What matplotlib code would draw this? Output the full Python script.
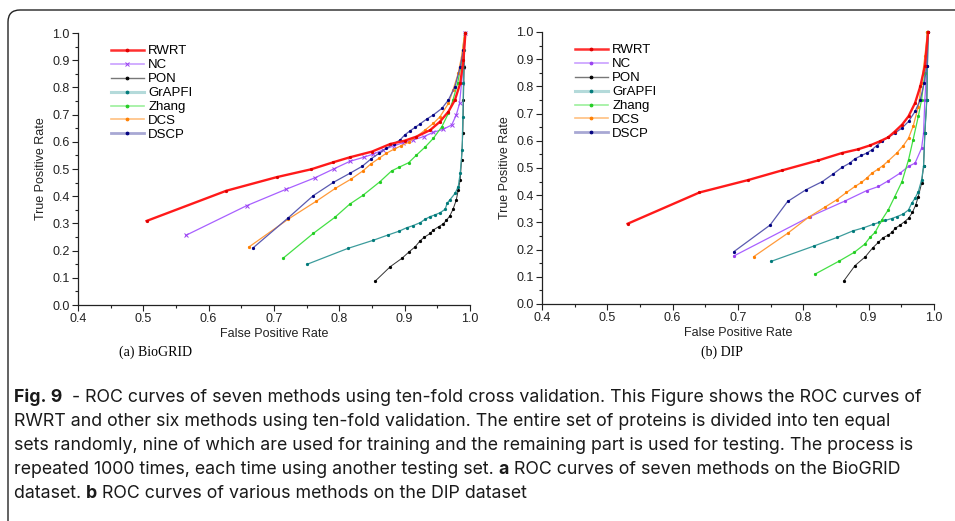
import matplotlib
matplotlib.use("Agg")
import matplotlib.pyplot as plt
from matplotlib import font_manager
from matplotlib.font_manager import FontProperties
from matplotlib.textpath import TextPath
from matplotlib.lines import Line2D
from matplotlib.patches import FancyBboxPatch
from matplotlib.transforms import IdentityTransform

# ---- data: (a) BioGRID ----
BG_RWRT_FPR = [0.505, 0.627, 0.704, 0.757, 0.791, 0.816, 0.850, 0.878, 0.900, 0.918, 0.939, 0.954, 0.967, 0.977, 0.985, 0.990, 0.993]
BG_RWRT_TPR = [0.309, 0.420, 0.470, 0.499, 0.525, 0.543, 0.564, 0.592, 0.604, 0.619, 0.643, 0.674, 0.711, 0.754, 0.815, 0.900, 1.000]
BG_NC_FPR = [0.565, 0.658, 0.719, 0.763, 0.792, 0.816, 0.837, 0.852, 0.867, 0.883, 0.898, 0.913, 0.929, 0.944, 0.959, 0.972, 0.979, 0.984, 0.987, 0.989, 0.993]
BG_NC_TPR = [0.256, 0.365, 0.426, 0.468, 0.501, 0.528, 0.543, 0.555, 0.570, 0.585, 0.597, 0.607, 0.619, 0.635, 0.646, 0.662, 0.699, 0.741, 0.815, 0.876, 1.000]
BG_PON_FPR = [0.855, 0.878, 0.896, 0.907, 0.916, 0.924, 0.930, 0.939, 0.944, 0.952, 0.959, 0.964, 0.969, 0.974, 0.979, 0.982, 0.985, 0.987, 0.989, 0.990, 0.991, 0.992]
BG_PON_TPR = [0.088, 0.141, 0.172, 0.196, 0.214, 0.237, 0.249, 0.263, 0.276, 0.288, 0.298, 0.312, 0.327, 0.352, 0.386, 0.423, 0.460, 0.533, 0.631, 0.754, 0.876, 1.000]
BG_GRAPFI_FPR = [0.751, 0.813, 0.852, 0.874, 0.891, 0.903, 0.913, 0.924, 0.931, 0.939, 0.946, 0.954, 0.962, 0.965, 0.969, 0.977, 0.982, 0.985, 0.988, 0.989, 0.990, 0.991, 0.992]
BG_GRAPFI_TPR = [0.150, 0.208, 0.238, 0.257, 0.271, 0.284, 0.292, 0.303, 0.315, 0.325, 0.331, 0.339, 0.352, 0.374, 0.386, 0.410, 0.435, 0.484, 0.570, 0.692, 0.815, 0.938, 1.000]
BG_ZHANG_FPR = [0.714, 0.760, 0.793, 0.816, 0.836, 0.862, 0.880, 0.891, 0.906, 0.918, 0.931, 0.944, 0.957, 0.967, 0.974, 0.981, 0.986, 0.989, 0.992]
BG_ZHANG_TPR = [0.172, 0.263, 0.322, 0.371, 0.403, 0.453, 0.493, 0.506, 0.523, 0.551, 0.580, 0.613, 0.656, 0.705, 0.754, 0.815, 0.876, 0.938, 1.000]
BG_DCS_FPR = [0.662, 0.722, 0.765, 0.794, 0.818, 0.836, 0.848, 0.861, 0.872, 0.883, 0.895, 0.906, 0.918, 0.931, 0.944, 0.954, 0.967, 0.974, 0.982, 0.987, 0.992]
BG_DCS_TPR = [0.214, 0.316, 0.382, 0.429, 0.463, 0.493, 0.518, 0.540, 0.558, 0.572, 0.586, 0.598, 0.619, 0.643, 0.668, 0.692, 0.741, 0.790, 0.852, 0.913, 1.000]
BG_DSCP_FPR = [0.668, 0.722, 0.760, 0.791, 0.816, 0.835, 0.849, 0.861, 0.872, 0.883, 0.893, 0.900, 0.908, 0.916, 0.923, 0.934, 0.944, 0.957, 0.967, 0.977, 0.985, 0.990, 0.993]
BG_DSCP_TPR = [0.210, 0.321, 0.402, 0.451, 0.484, 0.510, 0.538, 0.558, 0.576, 0.592, 0.607, 0.625, 0.640, 0.653, 0.665, 0.684, 0.699, 0.723, 0.754, 0.803, 0.876, 0.938, 1.000]

# ---- data: (b) DIP ----
DIP_RWRT_FPR = [0.531, 0.641, 0.716, 0.767, 0.823, 0.859, 0.884, 0.902, 0.917, 0.930, 0.940, 0.951, 0.961, 0.971, 0.979, 0.986, 0.991]
DIP_RWRT_TPR = [0.295, 0.410, 0.456, 0.491, 0.528, 0.555, 0.569, 0.583, 0.598, 0.613, 0.634, 0.659, 0.690, 0.739, 0.800, 0.874, 1.000]
DIP_NC_FPR = [0.694, 0.810, 0.864, 0.897, 0.915, 0.930, 0.948, 0.961, 0.971, 0.981, 0.984, 0.986, 0.989, 0.990]
DIP_NC_TPR = [0.177, 0.321, 0.379, 0.417, 0.432, 0.453, 0.481, 0.506, 0.518, 0.573, 0.628, 0.751, 0.874, 1.000]
DIP_PON_FPR = [0.862, 0.879, 0.895, 0.906, 0.915, 0.922, 0.930, 0.935, 0.941, 0.948, 0.955, 0.961, 0.967, 0.972, 0.976, 0.981, 0.984, 0.986, 0.989, 0.991]
DIP_PON_TPR = [0.085, 0.141, 0.174, 0.206, 0.227, 0.244, 0.253, 0.263, 0.279, 0.290, 0.303, 0.315, 0.337, 0.364, 0.395, 0.444, 0.506, 0.628, 0.751, 1.000]
DIP_GRAPFI_FPR = [0.751, 0.816, 0.852, 0.876, 0.892, 0.907, 0.916, 0.925, 0.935, 0.943, 0.953, 0.961, 0.966, 0.971, 0.976, 0.981, 0.984, 0.986, 0.989, 0.990, 0.991]
DIP_GRAPFI_TPR = [0.157, 0.213, 0.245, 0.269, 0.280, 0.293, 0.300, 0.307, 0.314, 0.321, 0.331, 0.346, 0.371, 0.389, 0.413, 0.456, 0.506, 0.628, 0.751, 0.874, 1.000]
DIP_ZHANG_FPR = [0.818, 0.855, 0.878, 0.894, 0.902, 0.910, 0.920, 0.930, 0.940, 0.951, 0.961, 0.968, 0.976, 0.981, 0.986, 0.990]
DIP_ZHANG_TPR = [0.110, 0.158, 0.190, 0.220, 0.245, 0.264, 0.309, 0.346, 0.395, 0.450, 0.530, 0.604, 0.690, 0.751, 0.849, 1.000]
DIP_DCS_FPR = [0.724, 0.776, 0.808, 0.833, 0.851, 0.866, 0.879, 0.889, 0.897, 0.905, 0.915, 0.922, 0.930, 0.943, 0.953, 0.961, 0.968, 0.976, 0.981, 0.986, 0.990]
DIP_DCS_TPR = [0.174, 0.260, 0.319, 0.356, 0.383, 0.410, 0.432, 0.447, 0.463, 0.481, 0.497, 0.509, 0.526, 0.555, 0.582, 0.610, 0.653, 0.726, 0.812, 0.910, 1.000]
DIP_DSCP_FPR = [0.694, 0.749, 0.776, 0.804, 0.829, 0.845, 0.859, 0.871, 0.879, 0.889, 0.897, 0.905, 0.912, 0.920, 0.930, 0.940, 0.951, 0.961, 0.971, 0.979, 0.985, 0.989, 0.991]
DIP_DSCP_TPR = [0.193, 0.290, 0.377, 0.420, 0.450, 0.477, 0.502, 0.518, 0.534, 0.546, 0.555, 0.567, 0.582, 0.598, 0.613, 0.628, 0.647, 0.671, 0.708, 0.751, 0.812, 0.874, 1.000]

METHODS = ["RWRT", "NC", "PON", "GrAPFI", "Zhang", "DCS", "DSCP"]
SUBTITLES = ["(a) BioGRID", "(b) DIP"]

# line colour, marker colour, line width, legend line colour, legend line width
STYLE = {
    "RWRT": ("#ff1a1a", "#e00000", 1.7, "#ff3030", 1.8),
    "NC": ("#a860ff", "#9a40f0", 0.9, "#c9a0ff", 1.2),
    "PON": ("#333333", "#000000", 0.7, "#777777", 1.0),
    "GrAPFI": ("#3c9c9c", "#007a7a", 0.9, "#b4dada", 2.2),
    "Zhang": ("#44e044", "#22cc22", 0.9, "#9cf09c", 1.2),
    "DCS": ("#ff9a3a", "#ff7f00", 0.9, "#ffc080", 1.2),
    "DSCP": ("#5a5ab0", "#000080", 0.9, "#a8a8d4", 2.0),
}

names = {f.name for f in font_manager.fontManager.ttflist}
sans = "Liberation Sans" if "Liberation Sans" in names else "DejaVu Sans"
serif = "Liberation Serif" if "Liberation Serif" in names else "DejaVu Serif"

plt.rcParams["font.family"] = [sans, "DejaVu Sans"]

fig = plt.figure(figsize=(9.55, 5.21), dpi=100)

W, H = 955, 521


def px_axes(x0, y0, x1, y1):
    return fig.add_axes([x0 / W, 1 - y1 / H, (x1 - x0) / W, (y1 - y0) / H])


ax1 = px_axes(78, 33, 470, 305)
ax2 = px_axes(542, 32, 934, 304)

panels = [
    (ax1, [(BG_RWRT_FPR, BG_RWRT_TPR), (BG_NC_FPR, BG_NC_TPR), (BG_PON_FPR, BG_PON_TPR),
           (BG_GRAPFI_FPR, BG_GRAPFI_TPR), (BG_ZHANG_FPR, BG_ZHANG_TPR),
           (BG_DCS_FPR, BG_DCS_TPR), (BG_DSCP_FPR, BG_DSCP_TPR)]),
    (ax2, [(DIP_RWRT_FPR, DIP_RWRT_TPR), (DIP_NC_FPR, DIP_NC_TPR), (DIP_PON_FPR, DIP_PON_TPR),
           (DIP_GRAPFI_FPR, DIP_GRAPFI_TPR), (DIP_ZHANG_FPR, DIP_ZHANG_TPR),
           (DIP_DCS_FPR, DIP_DCS_TPR), (DIP_DSCP_FPR, DIP_DSCP_TPR)]),
]

for k, (ax, series) in enumerate(panels):
    handles = []
    for name, (xs, ys) in zip(METHODS, series):
        lc, mc, lw, llc, llw = STYLE[name]
        mk = "x" if (k == 0 and name == "NC") else "o"
        ms = 2.6 if mk == "x" else 1.6
        ax.plot(xs, ys, color=lc, lw=lw, marker=mk, ms=ms, mfc=mc, mec=mc,
                mew=0.7, clip_on=False, zorder=3 if name == "RWRT" else 2)
        handles.append(Line2D([], [], color=llc, lw=llw, marker=mk, ms=ms + 0.4,
                              mfc=mc, mec=mc, mew=0.7, label=name))
    ax.set_xlim(0.4, 1.0)
    ax.set_ylim(0.0, 1.0)
    ax.set_xticks([0.4, 0.5, 0.6, 0.7, 0.8, 0.9, 1.0])
    ax.set_yticks([i / 10 for i in range(11)])
    ax.set_xticks([0.45 + i / 10 for i in range(6)], minor=True)
    ax.set_yticks([0.05 + i / 10 for i in range(10)], minor=True)
    ax.xaxis.set_major_formatter(matplotlib.ticker.FormatStrFormatter("%.1f"))
    ax.yaxis.set_major_formatter(matplotlib.ticker.FormatStrFormatter("%.1f"))
    ax.tick_params(which="major", direction="out", length=4, width=0.8, labelsize=9, pad=2,
                   color="#222222", labelcolor="#222222")
    ax.tick_params(which="minor", direction="out", length=2, width=0.8, color="#222222")
    for s in ["top", "right"]:
        ax.spines[s].set_visible(False)
    for s in ["left", "bottom"]:
        ax.spines[s].set_linewidth(0.9)
        ax.spines[s].set_color("#222222")
    ax.set_xlabel("False Positive Rate", fontsize=9, labelpad=2, color="#222222")
    ax.set_ylabel("True Positive Rate", fontsize=9, labelpad=4, color="#222222")
    ax.legend(handles=handles, loc="upper left", bbox_to_anchor=(0.07, 0.975), frameon=False,
              fontsize=9.5, handlelength=2.5, handletextpad=0.35, labelspacing=0.13,
              borderaxespad=0, numpoints=1)
    ax.set_facecolor("none")

fig.text(155 / W, 1 - 352 / H, SUBTITLES[0], ha="center", va="center", fontsize=10, family=serif)
fig.text(722 / W, 1 - 352 / H, SUBTITLES[1], ha="center", va="center", fontsize=10, family=serif)

# caption, drawn run by run so that bold parts sit inline
CAPTION = [
    [("Fig. 9", "bold"), ("  - ROC curves of seven methods using ten-fold cross validation. This Figure shows the ROC curves of", "normal")],
    [("RWRT and other six methods using ten-fold validation. The entire set of proteins is divided into ten equal", "normal")],
    [("sets randomly, nine of which are used for training and the remaining part is used for testing. The process is", "normal")],
    [("repeated 1000 times, each time using another testing set. ", "normal"), ("a", "bold"), (" ROC curves of seven methods on the BioGRID", "normal")],
    [("dataset. ", "normal"), ("b", "bold"), (" ROC curves of various methods on the DIP dataset", "normal")],
]
LINE_Y = [397, 421, 445, 469, 493]
TARGET_W = 911.0
TARGET_CAP = 10.7  # cap height of the caption text, px

renderer = fig.canvas.get_renderer()


def line_width(runs, fam, size):
    total = 0.0
    for txt, wt in runs:
        t = fig.text(0, 0, txt, fontsize=size, family=fam, weight=wt)
        total += t.get_window_extent(renderer).width
        t.remove()
    return total


# pick the family that fills the caption width at the right letter height
best = None
for fam in ["Roboto", "Lato", "Open Sans", "Noto Sans", "Liberation Sans", "Inter", "Roboto Condensed"]:
    if fam not in names:
        continue
    w = line_width(CAPTION[0], fam, 10.0)
    size = 10.0 * TARGET_W / w
    cap = TextPath((0, 0), "H", size=size * 100 / 72, prop=FontProperties(family=fam)).get_extents().height
    score = abs(cap - TARGET_CAP)
    if best is None or score < best[0]:
        best = (score, fam, size)
cap_font, cap_size = best[1], best[2]

for runs, yy in zip(CAPTION, LINE_Y):
    x = 14.0
    for txt, wt in runs:
        t = fig.text(x / W, 1 - yy / H, txt, fontsize=cap_size, family=cap_font, weight=wt,
                     ha="left", va="center", color="#1a1a1a")
        x += t.get_window_extent(renderer).width

border = FancyBboxPatch((8, -60), 1100, 521 - 10 + 60, boxstyle="round,pad=0,rounding_size=12",
                        transform=IdentityTransform(), fill=False, ec="#222222", lw=1.0)
fig.patches.append(border)

fig.savefig("out.png", dpi=100)
